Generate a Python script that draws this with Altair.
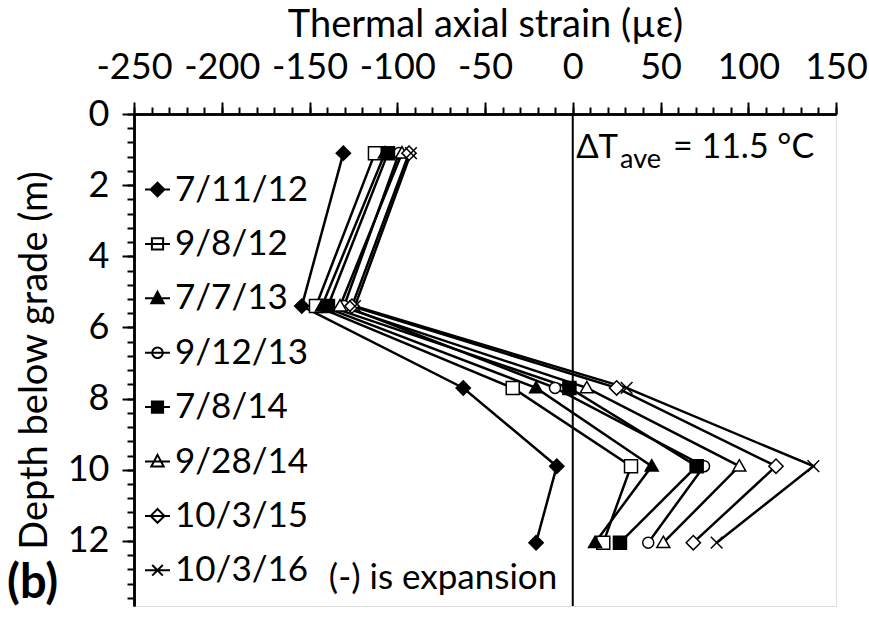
import altair as alt
import pandas as pd

# Survey dates and gauge depths (m)
dates = ["7/11/12", "9/8/12", "7/7/13", "9/12/13", "7/8/14", "9/28/14", "10/3/15", "10/3/16"]
depth_m = [1.1, 5.4, 7.7, 9.9, 12.05]

# Thermal axial strain (micro-strain) at each gauge depth, one list per survey
strain_071112 = [-130.7, -154.4, -62.4, -9.1, -20.9]
strain_090812 = [-112.7, -146.3, -34.2, 33.2, 17.4]
strain_070713 = [-107.0, -142.9, -20.9, 45.0, 12.7]
strain_091213 = [-99.0, -130.3, -10.1, 74.8, 43.0]
strain_070814 = [-105.3, -139.5, -1.9, 70.6, 26.9]
strain_092814 = [-97.3, -132.6, 8.0, 94.9, 51.6]
strain_100315 = [-93.3, -125.8, 25.0, 115.8, 68.7]
strain_100316 = [-92.2, -124.1, 30.7, 137.1, 82.0]

series = [strain_071112, strain_090812, strain_070713, strain_091213,
          strain_070814, strain_092814, strain_100315, strain_100316]

rows = []
for d, vals in zip(dates, series):
    for z, v in zip(depth_m, vals):
        rows.append({"date": d, "depth": z, "strain": v})
df = pd.DataFrame(rows)

FONT = "Lato"
W, H = 702, 492

x_scale = alt.Scale(domain=[-250, 150], nice=False, zero=False)
y_scale = alt.Scale(domain=[0, 13.83], reverse=True, nice=False, zero=False)

# Marker outlines (unit box) for the plotted points
DIAMOND = "M0,-1.1L1.1,0L0,1.1L-1.1,0Z"
SQUARE = "M-1,-1L1,-1L1,1L-1,1Z"
TRIANGLE = "M0,-1L1,0.75L-1,0.75Z"
CIRCLE = "M0.85,0A0.85,0.85,0,1,1,-0.85,0A0.85,0.85,0,1,1,0.85,0Z"
CROSS = "M-0.9,-0.9L0.9,0.9M-0.9,0.9L0.9,-0.9"
marker_paths = [DIAMOND, SQUARE, TRIANGLE, CIRCLE, SQUARE, TRIANGLE, DIAMOND, CROSS]
fills = ["black", "white", "black", "white", "black", "white", "white", "white"]


def polygon(pts, scales=(1.0,)):
    """Closed polygon path; extra scales add nested copies so a stroke fills it solid."""
    cx = sum(p[0] for p in pts) / len(pts)
    cy = sum(p[1] for p in pts) / len(pts)
    out = ""
    for k in scales:
        coords = [f"{cx + k * (x - cx):.3f},{cy + k * (y - cy):.3f}" for x, y in pts]
        out += "M" + "L".join(coords) + "Z"
    return out


SOLID = (1.0, 0.8, 0.6, 0.4, 0.2, 0.05)
LINE = "M-1.25,0L1.25,0"
diamond_pts = [(0, -0.69), (0.69, 0), (0, 0.69), (-0.69, 0)]
square_pts = [(-0.56, -0.56), (0.56, -0.56), (0.56, 0.56), (-0.56, 0.56)]
triangle_pts = [(0, -0.66), (0.62, 0.5), (-0.62, 0.5)]

# Legend symbols: the markers with a short line segment through them
legend_paths = [
    LINE + polygon(diamond_pts, SOLID),
    LINE + polygon(square_pts),
    LINE + polygon(triangle_pts, SOLID),
    LINE + "M0.53,0A0.53,0.53,0,1,1,-0.53,0A0.53,0.53,0,1,1,0.53,0Z",
    LINE + polygon(square_pts, SOLID),
    LINE + polygon(triangle_pts),
    LINE + polygon(diamond_pts),
    LINE + "M-0.53,-0.53L0.53,0.53M-0.53,0.53L0.53,-0.53",
]

minor_x = list(range(-250, 151, 10))
major_x = list(range(-250, 151, 50))
minor_y = [round(0.4 * i, 1) for i in range(35)]
major_y = list(range(0, 13, 2))

common_axis = dict(grid=False, domainColor="black", domainWidth=2.5,
                   tickColor="black", tickWidth=2, labelFlush=False)

# plain hyphen for negative tick labels
hyphen_labels = "datum.value < 0 ? '-' + abs(datum.value) : '' + datum.value"

base = alt.Chart(df)

# Vertical reference line at zero strain
zero_line = alt.Chart(pd.DataFrame({"strain": [0]})).mark_rule(
    color="black", strokeWidth=2
).encode(x=alt.X("strain:Q", scale=x_scale, axis=None))

# Profile lines (carry the minor tick axes)
lines = base.mark_line(color="black", strokeWidth=2.5).encode(
    x=alt.X("strain:Q", scale=x_scale,
            axis=alt.Axis(orient="top", values=minor_x, labels=False, tickSize=7,
                          title=None, **common_axis)),
    y=alt.Y("depth:Q", scale=y_scale,
            axis=alt.Axis(orient="left", values=minor_y, labels=False, tickSize=7,
                          title=None, **common_axis)),
    detail="date:N",
    order=alt.Order("depth:Q"),
)

# Markers (carry the labelled major axes)
points = base.mark_point(filled=False, size=169, strokeWidth=1.5, color="black", opacity=1).encode(
    x=alt.X("strain:Q", scale=x_scale,
            axis=alt.Axis(orient="top", values=major_x, tickSize=12, labelFont=FONT,
                          labelFontSize=36, labelColor="black", labelPadding=16,
                          labelOverlap=False, labelExpr=hyphen_labels,
                          title="Thermal axial strain (µε)", titleFont=FONT,
                          titleFontSize=38, titleFontWeight="normal", titleColor="black",
                          titlePadding=5, **common_axis)),
    y=alt.Y("depth:Q", scale=y_scale,
            axis=alt.Axis(orient="left", values=major_y, tickSize=12, labelFont=FONT,
                          labelFontSize=36, labelColor="black", labelPadding=13,
                          labelOverlap=False,
                          title="Depth below grade (m)", titleFont=FONT,
                          titleFontSize=38, titleFontWeight="normal", titleColor="black",
                          titlePadding=13, **common_axis)),
    shape=alt.Shape("date:N", scale=alt.Scale(domain=dates, range=marker_paths), legend=None),
    fill=alt.Fill("date:N", scale=alt.Scale(domain=dates, range=fills), legend=None),
)

# Legend-only layer: no rows survive the filter, the fixed domain drives the entries
legend_layer = base.transform_filter("false").mark_point(
    filled=False, size=400, strokeWidth=2, color="black", opacity=1
).encode(
    x=alt.X("strain:Q", scale=x_scale, axis=None),
    y=alt.Y("depth:Q", scale=y_scale, axis=None),
    shape=alt.Shape(
        "date:N",
        scale=alt.Scale(domain=dates, range=legend_paths),
        legend=alt.Legend(
            title=None, orient="none", legendX=6, legendY=58, padding=0,
            labelFont=FONT, labelFontSize=35, labelColor="black", labelOffset=0,
            symbolSize=400, symbolStrokeWidth=2, symbolStrokeColor="black",
            symbolOpacity=1, rowPadding=18.4, labelLimit=300,
        ),
    ),
)


def label(text, x, y, size=34, align="left", weight="normal"):
    return alt.Chart(pd.DataFrame({"t": [text]})).mark_text(
        font=FONT, fontSize=size, fontWeight=weight, color="black",
        align=align, baseline="alphabetic"
    ).encode(text="t:N", x=alt.value(x), y=alt.value(y))


delta_t = label("ΔT", 484, 44, size=33, align="right")
delta_sub = label("ave", 486, 54, size=27)
delta_val = label("= 11.5 °C", 539, 44, size=34)
note = label("(-) is expansion", 309, 475, size=35, align="center")
panel = label("(b)", -127, 484, size=47, weight="bold")

chart = alt.layer(
    zero_line, lines, points, legend_layer, delta_t, delta_sub, delta_val, note, panel
).resolve_scale(
    shape="independent", fill="independent"
).resolve_axis(
    x="independent", y="independent"
).properties(
    width=W, height=H,
    autosize=alt.AutoSizeParams(type="none"),
    padding={"left": 134, "top": 114, "right": 33, "bottom": 18},
).configure_view(
    stroke="black", strokeWidth=2.5
).configure(background="white")

chart.save("out.html", embed_options={"renderer": "svg", "actions": False})
